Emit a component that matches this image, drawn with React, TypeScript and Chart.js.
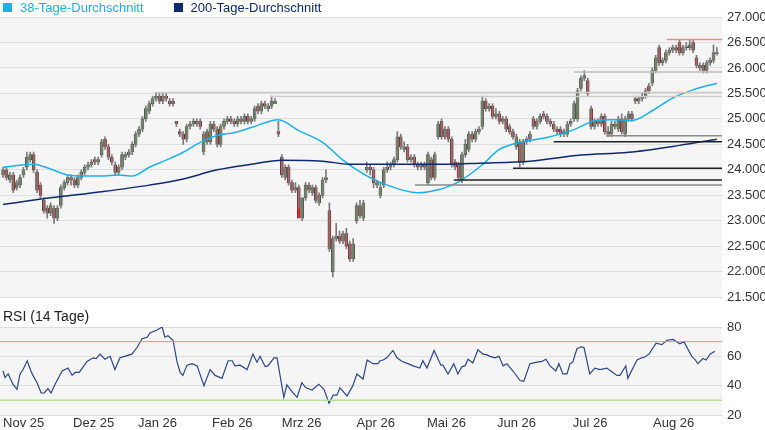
import { useEffect, useRef } from "react";
import { Chart, registerables } from "chart.js";

Chart.register(...registerables);

// daily candles, index 0 = first trading day of Nov 25
const opens = [
  23900,24000,23800,23900,23650,23700,23900,24050,24200,24300,
  23950,23700,23400,23250,23150,23250,23050,23300,23650,23750,
  23850,23800,23700,23850,23950,24050,24100,24200,24150,24300,
  24600,24450,24250,24100,23950,24050,24250,24300,24350,24500,
  24700,24800,25000,25150,25300,25400,25450,25350,25450,25350,
  25350,24950,24750,24700,24600,24850,24900,24900,24950,24350,
  24750,24550,24900,24800,24500,24850,24950,25000,24950,24900,
  25000,24950,25050,24950,25000,25250,25150,25300,25200,25250,
  25300,24750,24250,23850,24050,23750,23600,23650,23050,23450,
  23700,23550,23650,23350,23500,23850,23200,22000,22650,22700,
  22600,22750,22550,22250,23000,23300,23050,24000,24050,24000,
  23700,23500,23700,24000,24050,24100,24200,24650,24400,24450,
  24200,24250,24100,24050,24100,23750,24200,23850,24650,24950,
  24650,24800,24600,24150,24100,23800,24300,24400,24700,24600,
  24750,24850,25350,25200,25250,25050,25100,24950,25000,24850,
  24750,24450,24550,24150,24550,24600,25000,24850,24950,25100,
  25050,24950,24900,24800,24800,24700,24700,24900,25000,25000,
  25600,25800,25750,25200,24850,24950,24900,25050,24750,24700,
  24900,24800,25000,24700,25000,25100,25400,25350,25400,25450,
  25650,25700,25950,26400,26100,26150,26300,26350,26400,26500,
  26300,26400,26400,26500,26200,26000,26050,25950,26100,26150,26280,
];
const highs = [
  24050,24050,23950,23950,23800,23900,24050,24350,24350,24350,
  24000,23750,23450,23300,23350,23300,23300,23700,23800,23900,
  23900,23850,23900,24000,24100,24150,24200,24250,24250,24600,
  24650,24500,24300,24150,24100,24350,24350,24400,24550,24750,
  24850,25050,25250,25350,25450,25500,25500,25500,25500,25400,
  25400,24950,24800,24750,24900,24950,25000,25000,25000,24750,
  24800,24950,24950,24850,24900,25000,25050,25050,25000,25050,
  25050,25100,25100,25050,25250,25300,25350,25350,25300,25450,
  25400,24950,24300,24100,24100,23800,23750,23700,23450,23750,
  23750,23700,23700,23550,23850,24000,23350,22700,22950,22800,
  22800,22850,22600,22650,23350,23400,23400,24150,24100,24050,
  23800,23750,24050,24150,24150,24250,24750,24700,24550,24500,
  24300,24300,24150,24150,24150,24350,24250,24350,24950,25000,
  24850,24850,24650,24200,24150,24350,24600,24750,24750,24800,
  24850,25450,25400,25300,25300,25200,25150,25050,25050,24900,
  24800,24700,24600,24600,24650,24750,25050,25000,25100,25150,
  25100,25000,24950,24850,24850,24800,24950,25000,25350,25600,
  25850,25950,25800,25250,25000,25000,25100,25100,24850,24950,
  24950,25050,25100,25050,25150,25150,25450,25450,25500,25600,
  25700,26000,26250,26450,26200,26350,26400,26450,26450,26550,
  26450,26500,26550,26550,26250,26100,26100,26150,26200,26450,26400,
];
const lows = [
  23850,23800,23750,23550,23600,23650,23850,24000,24150,23950,
  23550,23450,23150,23050,23100,22950,23000,23250,23600,23700,
  23700,23650,23650,23800,23900,24000,24050,24100,24100,24250,
  24400,24200,24100,23900,23900,24000,24200,24250,24300,24450,
  24650,24750,24950,25100,25250,25350,25300,25300,25350,25250,
  25250,24850,24650,24500,24550,24800,24850,24850,24800,24300,
  24500,24500,24750,24450,24450,24800,24900,24900,24850,24850,
  24900,24900,24900,24900,24950,25100,25100,25200,25150,25200,
  25300,24650,23850,23800,23700,23550,23550,23250,23000,23400,
  23550,23500,23350,23300,23450,23750,22400,21900,22600,22550,
  22550,22450,22200,22200,22950,23050,23000,23950,23900,23650,
  23650,23450,23650,23950,24000,24050,24150,24400,24350,24150,
  24150,24050,24000,24000,24000,23700,23800,23800,24600,24600,
  24600,24550,24050,24000,23800,23750,24250,24350,24550,24550,
  24700,24800,25150,25150,25000,25000,24900,24900,24750,24700,
  24600,24400,24050,24100,24500,24550,24800,24800,24900,25000,
  24900,24850,24750,24700,24650,24650,24650,24850,24950,24950,
  25550,25750,25450,24800,24800,24850,24850,24700,24650,24650,
  24800,24750,24700,24650,24950,24950,25300,25300,25350,25400,
  25500,25650,25900,26050,26050,26100,26250,26300,26300,26250,
  26250,26350,26350,26300,26000,25950,25900,25900,26050,26100,26250,
];
const closes = [
  24000,23850,23900,23600,23750,23850,24000,24250,24300,24000,
  23600,23500,23200,23150,23300,23050,23250,23650,23750,23850,
  23800,23700,23850,23950,24050,24100,24150,24150,24200,24550,
  24450,24250,24150,23950,24050,24300,24300,24350,24500,24700,
  24800,25000,25200,25300,25400,25450,25350,25450,25400,25300,
  25300,24900,24700,24600,24850,24900,24950,24950,24850,24700,
  24550,24900,24800,24500,24850,24950,25000,24950,24900,25000,
  24950,25050,24950,25000,25200,25150,25300,25250,25250,25350,
  25350,24700,23900,24050,23750,23600,23650,23050,23450,23700,
  23600,23650,23400,23500,23800,23800,22450,22650,22700,22600,
  22750,22500,22250,22550,23300,23100,23350,24050,24000,23750,
  23750,23650,24000,24050,24100,24200,24650,24450,24450,24200,
  24250,24100,24050,24100,24050,24300,23850,24300,24900,24650,
  24800,24600,24100,24050,23850,24300,24500,24700,24600,24750,
  24800,25350,25200,25250,25050,25100,24950,25000,24800,24750,
  24650,24650,24150,24550,24600,24700,24850,24950,25050,25050,
  24950,24900,24800,24750,24700,24750,24900,24950,25300,25550,
  25800,25850,25500,24850,24950,24900,25050,24750,24700,24900,
  24850,25000,24750,25000,25100,25000,25350,25400,25450,25550,
  25550,25950,26200,26100,26150,26300,26350,26400,26350,26300,
  26400,26400,26450,26350,26050,26050,25950,26100,26150,26300,26300,
];

const ma38Idx = [0,9,14,19,24,29,34,38,43,48,53,58,63,68,73,81,87,94,100,106,112,122,128,134,141,146,152,160,168,174,179,185,191,197,203,210];
const ma38Val = [24050,24110,24015,23900,23880,23880,23900,23880,24050,24190,24345,24540,24675,24730,24830,24985,24770,24540,24190,23920,23725,23550,23610,23765,24100,24400,24540,24635,24790,24965,24985,24970,25160,25410,25570,25700];

const ma200Idx = [0,14,29,43,53,63,73,82,94,102,114,131,140,155,170,184,199,210];
const ma200Val = [23320,23450,23570,23700,23820,24000,24110,24190,24170,24110,24110,24110,24130,24170,24290,24345,24480,24600];

const rsiIdx = [0,0.6,1.5,2.9,4.1,5,5.9,7.1,8.2,8.8,10,11.2,12.1,13.2,14.1,15.3,17.4,19.1,20.3,21.2,22.4,24.7,26.5,27.4,28.5,30,31.5,32.9,34.4,36.5,37.9,39.4,40.9,42.4,43.2,45.3,46.8,47.6,48.5,50,51.2,52.1,52.9,54.1,55.6,57.1,59.1,60.9,62.4,64.4,66.2,67.4,68.2,69.7,71.8,73.5,74.7,75.6,77.1,77.9,79.7,80.6,82.6,83.5,85,86.5,87.9,89.1,90.9,92.9,94.4,95.9,97.1,98.2,99.1,101.2,102.9,104.1,105.9,107.1,108.8,110.3,110.9,111.8,112.9,114.7,115.9,117.4,119.1,120.6,122.6,123.5,124.7,126.8,128.8,129.4,130.9,132.6,133.8,135,135.9,136.8,138.2,139.7,141.2,142.4,143.2,144.7,145.9,147.1,148.2,150,152.1,153.2,155,157.1,158.5,159.7,160.9,162.6,163.5,164.7,165.9,166.8,167.6,168.8,170,170.9,172.6,174.1,175.6,177.6,179.4,180.6,181.5,183.2,183.8,186.5,187.9,188.8,190,192.1,193.8,195.3,197.1,199.1,200.3,202.6,203.5,204.4,205.9,206.8,208,209.4];
const rsiVal = [50,45.5,48,41,37.5,48,51,57,50,47,42,35,35,38,35,41,50,52,47,49,49,56.5,59,58.5,61.5,58,60,51,59,60.5,61.5,66,72,73,76,78,80,73,74,71,56,49,47,54,55,53.5,40,51,47,45,57,57,53.5,54,51,61.5,56,60,53,53.5,59,59,32,40.5,36,32,42,38.5,37,41,37.5,28,33.5,33.5,38.5,33,40,48,44.5,57.5,55,55,57,57.5,59,64,59,56.5,55,53.5,52,57,52,64,54,54,48,55,48,53,53.5,58,55.5,64.5,61.5,61,60,59,60,53.5,55,50,43.5,43,55,56,56.5,58,53.5,50,55,48,48,55,56,65,66.5,66,48,52,51,52,49,47,47,53.5,45,57.5,59,59.5,61.5,69,68,71,71.5,68.5,70,60,58,55,58.5,57.5,61.5,63.5];

// horizontal support / resistance lines
const levelVals = [25520, 25440, 26560, 25920, 24670, 24550, 24030, 23800, 23700];
const levelStart = [44.5, 78.5, 195.3, 168, 177.4, 162, 150, 132.6, 121.2];
const levelColors = ["#cccccc", "#cccccc", "#f28b82", "#bdbdbd", "#8a8a8a", "#222222", "#222222", "#222222", "#8a8a8a"];

const monthIdx = [0, 20.6, 39.7, 61.5, 82, 104, 124.7, 145.3, 167.6, 191.2];
const monthLabels = ["Nov 25", "Dez 25", "Jan 26", "Feb 26", "Mrz 26", "Apr 26", "Mai 26", "Jun 26", "Jul 26", "Aug 26"];

const X_MIN = -0.9;
const X_MAX = 211.5;
const FONT = "'Liberation Sans', Arial, sans-serif";

const plotBg = {
  id: "plotBg",
  beforeDraw(chart: any) {
    const { ctx, chartArea: a } = chart;
    ctx.save();
    ctx.fillStyle = "#f5f5f5";
    ctx.fillRect(a.left, a.top, a.right - a.left, a.bottom - a.top);
    ctx.restore();
  },
};

const fmt = (v: number) => {
  const s = String(Math.round(v));
  return s.length > 3 ? s.slice(0, s.length - 3) + "." + s.slice(-3) : s;
};

export default function App() {
  const priceRef = useRef<HTMLCanvasElement | null>(null);
  const rsiRef = useRef<HTMLCanvasElement | null>(null);

  useEffect(() => {
    document.body.style.margin = "0";
    const n = Math.min(opens.length, highs.length, lows.length, closes.length);
    const wicks: any[] = [];
    const bodies: any[] = [];
    const bodyColors: string[] = [];
    for (let i = 0; i < n; i++) {
      wicks.push({ x: i, y: [lows[i], highs[i]] });
      bodies.push({ x: i, y: [opens[i], closes[i]] });
      bodyColors.push(closes[i] >= opens[i] ? "#6e9a55" : "#e8212b");
    }
    const levelSets = levelVals.map((v, k) => ({
      type: "line" as const,
      data: [{ x: levelStart[k], y: v }, { x: X_MAX, y: v }],
      borderColor: levelColors[k],
      borderWidth: 1.5,
      pointRadius: 0,
    }));

    const price = new Chart(priceRef.current!, {
      type: "bar",
      data: {
        datasets: [
          ...levelSets,
          {
            type: "line",
            data: ma200Idx.map((x, k) => ({ x, y: ma200Val[k] })),
            borderColor: "#0d2a6e",
            borderWidth: 1.5,
            pointRadius: 0,
            cubicInterpolationMode: "monotone",
          },
          {
            type: "line",
            data: ma38Idx.map((x, k) => ({ x, y: ma38Val[k] })),
            borderColor: "#1bb2ea",
            borderWidth: 1.5,
            pointRadius: 0,
            cubicInterpolationMode: "monotone",
          },
          {
            type: "bar",
            data: wicks,
            backgroundColor: "#7a7a7a",
            barThickness: 1,
            grouped: false,
          },
          {
            type: "bar",
            data: bodies,
            backgroundColor: bodyColors,
            borderColor: "#3a3a3a",
            borderWidth: 0.6,
            borderSkipped: false,
            barThickness: 3,
            minBarLength: 1,
            grouped: false,
          },
        ] as any,
      },
      options: {
        animation: false,
        responsive: false,
        layout: { padding: { top: 17, bottom: 7, left: 0, right: 0 } },
        plugins: { legend: { display: false }, tooltip: { enabled: false } },
        scales: {
          x: { type: "linear", min: X_MIN, max: X_MAX, display: false, offset: false },
          y: {
            position: "right",
            min: 21500,
            max: 27000,
            afterFit: (s: any) => { s.width = 43; },
            border: { display: false },
            grid: { color: "#dedede", drawTicks: false },
            ticks: { stepSize: 500, padding: 5, color: "#333", font: { family: FONT, size: 13 }, callback: (v: any) => fmt(Number(v)) },
          },
        },
      },
      plugins: [plotBg],
    });

    const rsi = new Chart(rsiRef.current!, {
      type: "line",
      data: {
        datasets: [
          { data: [{ x: X_MIN, y: 70 }, { x: X_MAX, y: 70 }], borderColor: "#f08a8a", borderWidth: 1, pointRadius: 0 },
          { data: [{ x: X_MIN, y: 30 }, { x: X_MAX, y: 30 }], borderColor: "#b6dca4", borderWidth: 1.5, pointRadius: 0 },
          {
            data: rsiIdx.map((x, k) => ({ x, y: rsiVal[k] })),
            borderColor: "#2b4786",
            borderWidth: 1.2,
            pointRadius: 0,
          },
        ],
      },
      options: {
        animation: false,
        responsive: false,
        layout: { padding: { top: 22, bottom: 0, left: 0, right: 0 } },
        plugins: { legend: { display: false }, tooltip: { enabled: false } },
        scales: {
          x: {
            type: "linear",
            min: X_MIN,
            max: X_MAX,
            afterFit: (s: any) => { s.height = 15; },
            afterBuildTicks: (s: any) => { s.ticks = monthIdx.map((v) => ({ value: v })); },
            border: { display: false },
            grid: { display: false, drawTicks: false, tickLength: 0 },
            ticks: {
              align: "start",
              padding: 1,
              maxRotation: 0,
              autoSkip: false,
              color: "#333",
              font: { family: FONT, size: 13 },
              callback: (v: any) => monthLabels[monthIdx.indexOf(Number(v))] ?? "",
            },
          },
          y: {
            position: "right",
            min: 20,
            max: 80,
            afterFit: (s: any) => { s.width = 43; },
            border: { display: false },
            grid: { color: "#dedede", drawTicks: false },
            ticks: { stepSize: 20, padding: 5, color: "#333", font: { family: FONT, size: 13 } },
          },
        },
      },
      plugins: [plotBg],
    });

    return () => {
      price.destroy();
      rsi.destroy();
    };
  }, []);

  const legendText = { fontFamily: FONT, fontSize: 13 } as const;
  return (
    <div style={{ position: "relative", width: 765, height: 430, background: "#fff" }}>
      <canvas ref={priceRef} width={765} height={310} style={{ position: "absolute", left: 0, top: 0 }} />
      <canvas ref={rsiRef} width={765} height={125} style={{ position: "absolute", left: 0, top: 305 }} />
      <div style={{ position: "absolute", left: 3, top: 0, display: "flex", alignItems: "center", height: 15, ...legendText }}>
        <span style={{ width: 9, height: 9, background: "#1bb2ea", marginRight: 8 }} />
        <span style={{ color: "#1bb2ea", marginRight: 30 }}>38-Tage-Durchschnitt</span>
        <span style={{ width: 9, height: 9, background: "#0d2a6e", marginRight: 8 }} />
        <span style={{ color: "#0d2a6e" }}>200-Tage-Durchschnitt</span>
      </div>
      <div style={{ position: "absolute", left: 3, top: 308, color: "#222", fontFamily: FONT, fontSize: 14 }}>RSI (14 Tage)</div>
    </div>
  );
}
